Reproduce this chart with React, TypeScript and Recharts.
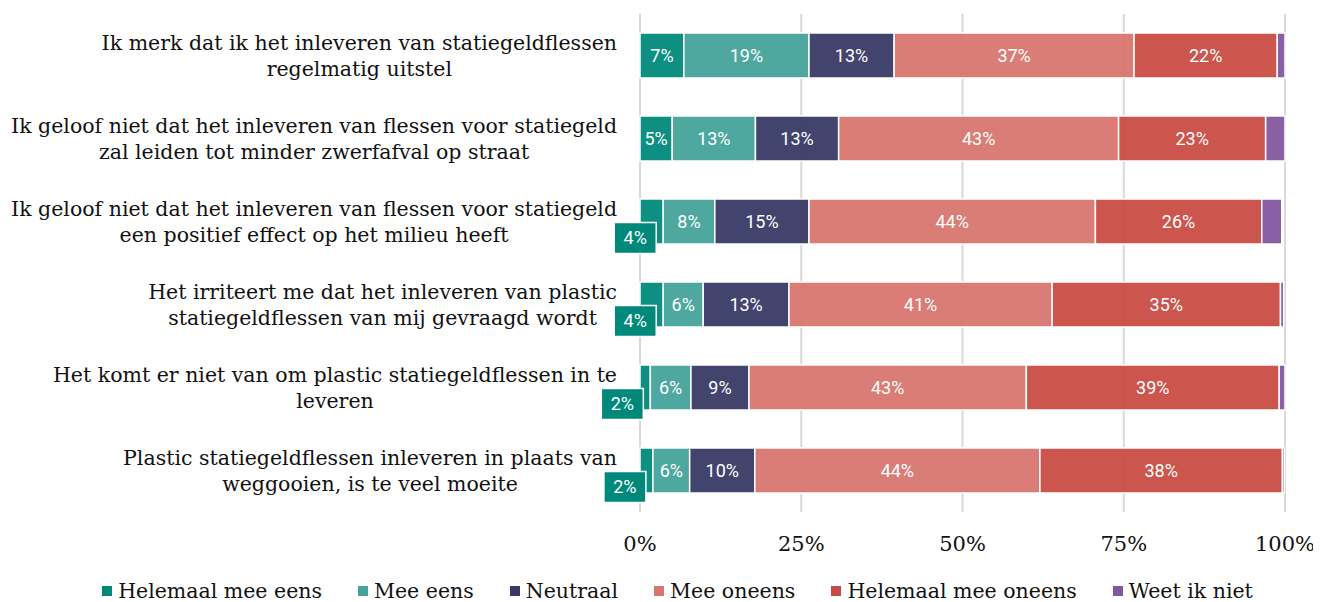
import { BarChart, Bar, XAxis, YAxis, CartesianGrid, Legend, LabelList } from "recharts";

const categories = [
  "Ik merk dat ik het inleveren van statiegeldflessen\nregelmatig uitstel",
  "Ik geloof niet dat het inleveren van flessen voor statiegeld\nzal leiden tot minder zwerfafval op straat",
  "Ik geloof niet dat het inleveren van flessen voor statiegeld\neen positief effect op het milieu heeft",
  "Het irriteert me dat het inleveren van plastic\nstatiegeldflessen van mij gevraagd wordt",
  "Het komt er niet van om plastic statiegeldflessen in te\nleveren",
  "Plastic statiegeldflessen inleveren in plaats van\nweggooien, is te veel moeite",
];

const seriesNames = ["Helemaal mee eens", "Mee eens", "Neutraal", "Mee oneens", "Helemaal mee oneens", "Weet ik niet"];

const helemaalMeeEens = [6.8, 5.0, 3.6, 3.6, 1.6, 2.0];
const meeEens = [19.4, 12.9, 8.0, 6.2, 6.3, 5.7];
const neutraal = [13.2, 12.9, 14.6, 13.3, 9.0, 10.1];
const meeOneens = [37.2, 43.4, 44.4, 40.8, 43.0, 44.2];
const helemaalMeeOneens = [22.2, 22.8, 25.8, 35.4, 39.2, 37.6];
const weetIkNiet = [1.2, 3.0, 3.1, 0.5, 0.9, 0.3];

const xTicks = [0, 25, 50, 75, 100];

const COLORS = ["#00897b", "#45a39a", "#383a66", "#d7766f", "#c94c44", "#83579e"];
const KEYS = ["k0", "k1", "k2", "k3", "k4", "k5"];

const data = categories.map((name, i) => ({
  name,
  k0: helemaalMeeEens[i],
  k1: meeEens[i],
  k2: neutraal[i],
  k3: meeOneens[i],
  k4: helemaalMeeOneens[i],
  k5: weetIkNiet[i],
}));

const SERIF = "'DejaVu Serif', serif";
const SANS = "Roboto, sans-serif";
const LABEL_SIZE = 20.5;

let ctx: CanvasRenderingContext2D | null = null;
function measure(s: string) {
  if (!ctx) ctx = document.createElement("canvas").getContext("2d");
  if (!ctx) return s.length * LABEL_SIZE * 0.55;
  ctx.font = `${LABEL_SIZE}px 'DejaVu Serif'`;
  return ctx.measureText(s).width;
}

function CategoryTick(props: any) {
  const { x, y, payload } = props;
  const lines = String(payload.value).split("\n");
  const lh = 26;
  const maxW = Math.max(...lines.map(measure));
  const cx = x - maxW / 2;
  const start = y - ((lines.length - 1) * lh) / 2;
  return (
    <text x={cx} y={start} textAnchor="middle" fontFamily={SERIF} fontSize={LABEL_SIZE} fill="#111">
      {lines.map((l, i) => (
        <tspan key={i} x={cx} y={start + i * lh} dy="0.35em">
          {l}
        </tspan>
      ))}
    </text>
  );
}

function PctTick(props: any) {
  const { x, y, payload } = props;
  return (
    <text x={x} y={y} dy="0.71em" textAnchor="middle" fontFamily={SERIF} fontSize={21} fill="#111">
      {payload.value}%
    </text>
  );
}

function makeLabel(seriesIndex: number) {
  return (props: any) => {
    const { x, y, width, height, value } = props;
    if (seriesIndex === 5) return null;
    const txt = `${Math.round(value)}%`;
    const cy = y + height / 2;
    if (seriesIndex === 0 && value < 4.5) {
      const bw = 42;
      const bh = 31;
      const right = x + width - 7;
      return (
        <g>
          <rect x={right - bw} y={cy + 1} width={bw} height={bh} fill={COLORS[0]} stroke="#fff" strokeWidth={1.5} />
          <text x={right - bw / 2} y={cy + 1 + bh / 2} dy="0.36em" textAnchor="middle" fontFamily={SANS} fontSize={18} fill="#fff">
            {txt}
          </text>
        </g>
      );
    }
    return (
      <text x={x + width / 2} y={cy} dy="0.36em" textAnchor="middle" fontFamily={SANS} fontSize={18} fill="#fff">
        {txt}
      </text>
    );
  };
}

function LegendContent() {
  return (
    <div
      style={{
        display: "flex",
        justifyContent: "center",
        alignItems: "flex-end",
        height: 40,
        gap: 36,
        paddingLeft: 62,
        fontFamily: SERIF,
        fontSize: 20.5,
        color: "#111",
      }}
    >
      {seriesNames.map((n, i) => (
        <span key={n} style={{ display: "flex", alignItems: "center", gap: 6, lineHeight: "22px" }}>
          <span style={{ width: 10, height: 10, background: COLORS[i], display: "inline-block" }} />
          {n}
        </span>
      ))}
    </div>
  );
}

export default function App() {
  return (
    <BarChart
      width={1313}
      height={594}
      data={data}
      layout="vertical"
      margin={{ top: 6, right: 36, bottom: 0, left: 0 }}
    >
      <CartesianGrid horizontal={false} vertical stroke="#d9d9d9" strokeWidth={2} />
      <XAxis
        type="number"
        domain={[0, 100]}
        ticks={xTicks}
        axisLine={false}
        tickLine={false}
        height={50}
        tickMargin={18}
        tick={<PctTick />}
        interval={0}
      />
      <YAxis
        type="category"
        dataKey="name"
        width={632}
        axisLine={false}
        tickLine={false}
        tickMargin={17}
        tick={<CategoryTick />}
        interval={0}
      />
      <Legend verticalAlign="bottom" height={40} content={<LegendContent />} />
      {KEYS.map((k, i) => (
        <Bar
          key={k}
          dataKey={k}
          name={seriesNames[i]}
          stackId="a"
          fill={COLORS[i]}
          fillOpacity={0.95}
          stroke="#fff"
          strokeWidth={1.5}
          barSize={45}
          isAnimationActive={false}
        >
          <LabelList dataKey={k} content={makeLabel(i)} />
        </Bar>
      ))}
    </BarChart>
  );
}
